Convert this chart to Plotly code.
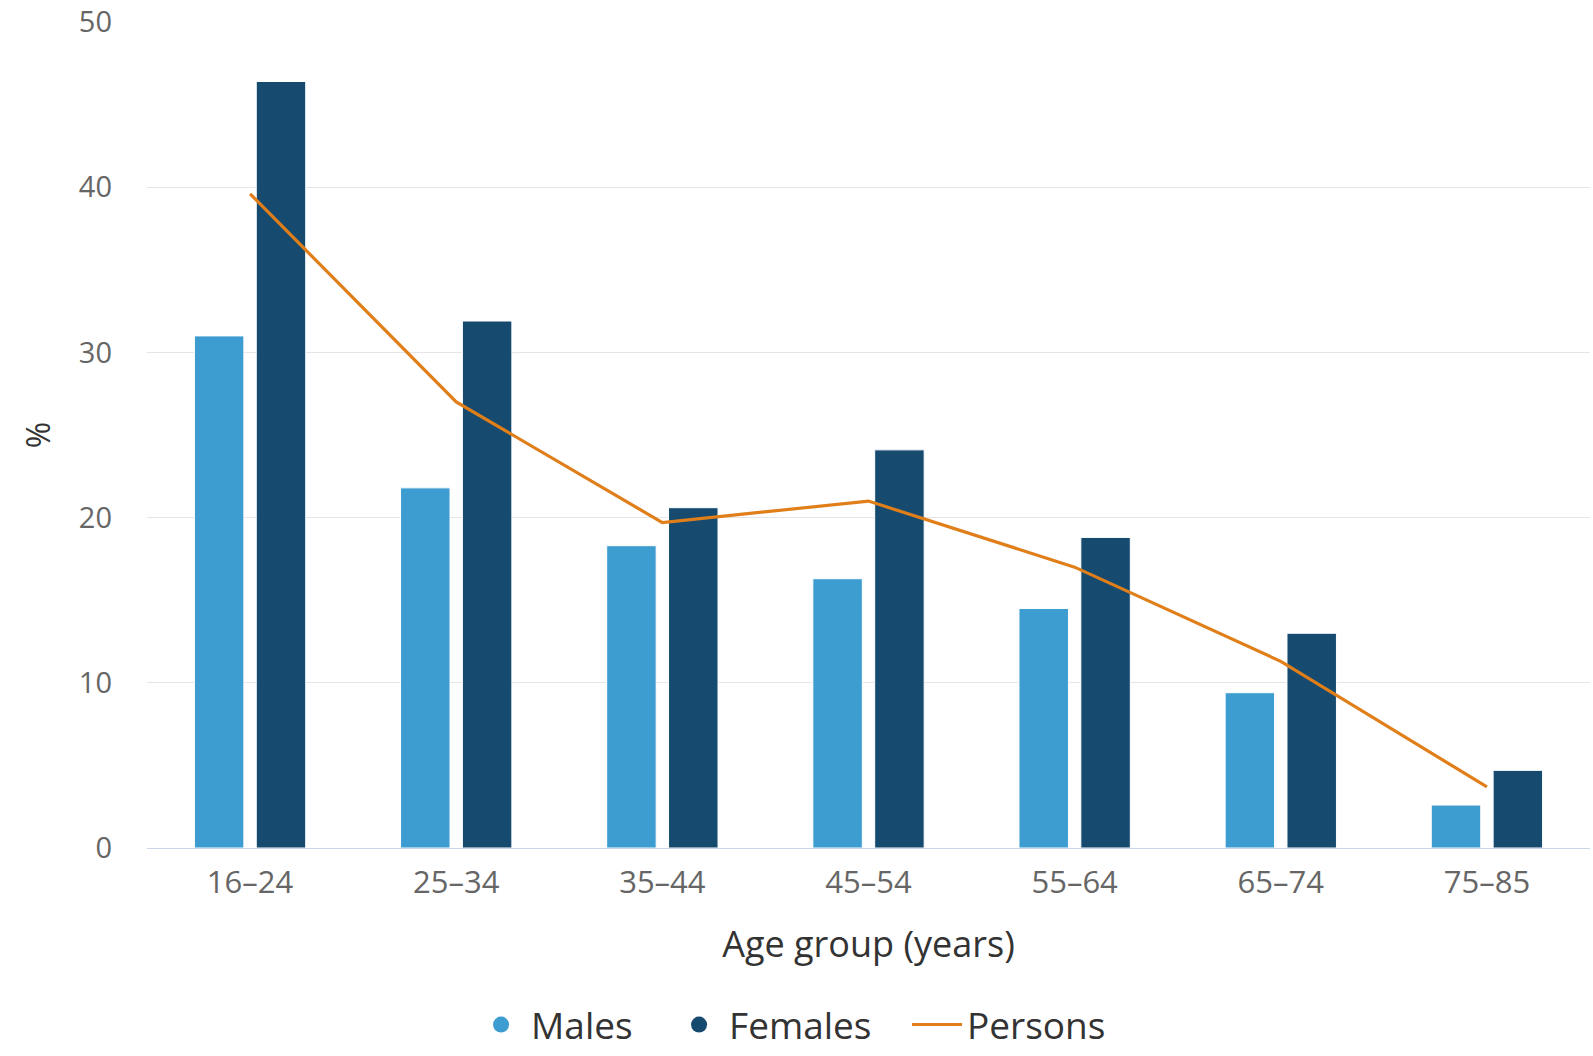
import plotly.graph_objects as go

categories = ["16–24", "25–34", "35–44", "45–54", "55–64", "65–74", "75–85"]
males = [31.0, 21.8, 18.3, 16.3, 14.5, 9.4, 2.6]
females = [46.4, 31.9, 20.6, 24.1, 18.8, 13.0, 4.7]
persons = [39.6, 27.0, 19.7, 21.0, 17.0, 11.3, 3.7]

C_M = "#3d9dd1"
C_F = "#164a6f"
C_P = "#e07f1a"
FONT = "Open Sans"

fig = go.Figure()
fig.add_bar(x=categories, y=males, name="Males", marker=dict(color=C_M, line=dict(color="#ffffff", width=1)),
            showlegend=False)
fig.add_bar(x=categories, y=females, name="Females", marker=dict(color=C_F, line=dict(color="#ffffff", width=1)),
            showlegend=False)
fig.add_scatter(x=categories, y=persons, name="Persons", mode="lines", line=dict(color=C_P, width=3.2),
                showlegend=False)
# legend entries (one legend each so they can be spaced like the original)
fig.add_scatter(x=[None], y=[None], name="Males", mode="markers", legend="legend",
                marker=dict(symbol="circle", size=16, color=C_M))
fig.add_scatter(x=[None], y=[None], name="Females", mode="markers", legend="legend2",
                marker=dict(symbol="circle", size=16, color=C_F))
fig.add_scatter(x=[None], y=[None], name="Persons", mode="lines", legend="legend3",
                line=dict(color=C_P, width=3))

leg_common = dict(orientation="h", xref="container", yref="container",
                  xanchor="left", y=-0.015, yanchor="bottom", itemwidth=50,
                  font=dict(size=37, color="#333333", family=FONT), itemsizing="trace")

fig.update_layout(
    width=1593, height=1056,
    margin=dict(l=147, r=3, t=22, b=208, autoexpand=False),
    paper_bgcolor="white", plot_bgcolor="white",
    font=dict(family=FONT, color="#333333"),
    barmode="group", bargap=0.40, bargroupgap=0.2,
    showlegend=True,
    legend=dict(x=0.2957, **leg_common),
    legend2=dict(x=0.4200, **leg_common),
    legend3=dict(x=0.5694, **leg_common),
    xaxis=dict(
        title=dict(text="Age group (years)", font=dict(size=36, color="#333333"), standoff=30),
        tickfont=dict(size=31, color="#666666"),
        showline=True, linecolor="#ccd6eb", linewidth=1,
        showgrid=False, ticks="", ticklen=0,
        ticklabelstandoff=7,
    ),
    yaxis=dict(
        title=dict(text="%", font=dict(size=32, color="#333333"), standoff=18),
        tickfont=dict(size=29, color="#666666"),
        range=[0, 50], dtick=10, tick0=0,
        showgrid=True, gridcolor="#e6e6e6", gridwidth=1,
        zeroline=False, showline=False,
        ticklabelstandoff=34, ticklabeloverflow="allow",
    ),
)

fig.write_html("out.html")
